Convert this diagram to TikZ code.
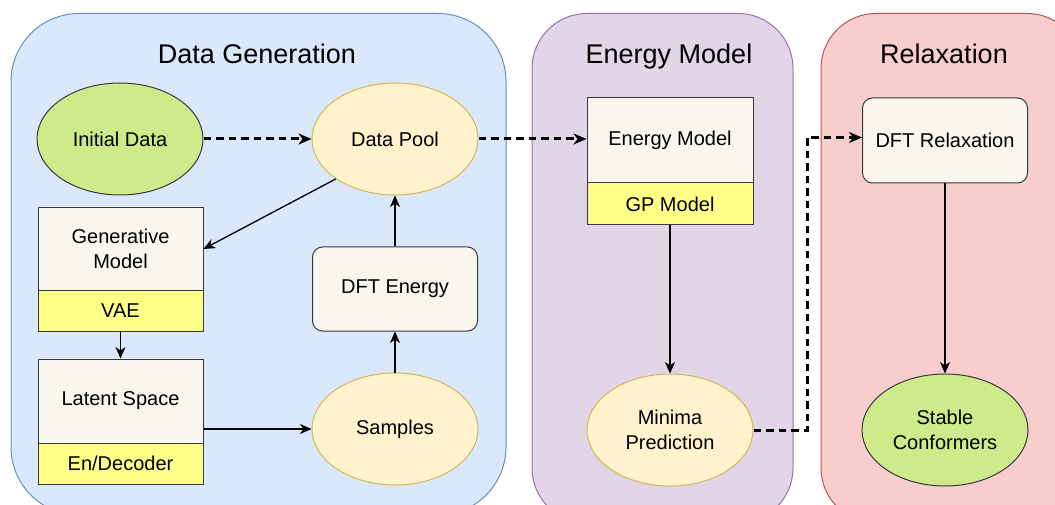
\documentclass[tikz,border=0pt]{standalone}
\usepackage{fontspec}
\setmainfont{Liberation Sans}
\usetikzlibrary{shapes.geometric,arrows.meta}
\definecolor{dgfill}{HTML}{DAE8FC}\definecolor{dgline}{HTML}{6C8EBF}
\definecolor{emfill}{HTML}{E1D5E7}\definecolor{emline}{HTML}{9673A6}
\definecolor{rxfill}{HTML}{F8CECC}\definecolor{rxline}{HTML}{B85450}
\definecolor{grfill}{HTML}{CDEB8B}\definecolor{dark}{HTML}{36393D}
\definecolor{yefill}{HTML}{FFF2CC}\definecolor{yeline}{HTML}{D6B656}
\definecolor{bxfill}{HTML}{F9F7ED}\definecolor{bandfill}{HTML}{FFFF88}
\tikzset{
  body/.style={font=\fontsize{20}{24.5}\selectfont, align=center, inner sep=0pt},
  title/.style={font=\fontsize{27}{31}\selectfont, anchor=base, inner sep=0pt},
  cont/.style={line width=1pt},
  greenell/.style={body, ellipse, draw=dark, fill=grfill, line width=1pt, minimum width=166pt, minimum height=112pt},
  yellowell/.style={body, ellipse, draw=yeline, fill=yefill, line width=1pt, minimum width=166pt, minimum height=112pt},
  cellbox/.style={body, rectangle, draw=dark, fill=bxfill, line width=1pt, minimum width=165pt},
  bandbox/.style={body, rectangle, draw=dark, fill=bandfill, line width=1pt, minimum width=165pt, minimum height=41pt},
  roundbox/.style={cellbox, rounded corners=10pt},
  flow/.style={-{Stealth[length=11.5pt,width=10pt,inset=3.5pt]}, line width=1.3pt},
  dflow/.style={-{Stealth[length=13pt,width=11pt,inset=4pt]}, line width=3pt, dash pattern=on 7.5pt off 5pt}
}
\begin{document}
\begin{tikzpicture}[x=1pt,y=-1pt]
\useasboundingbox (0,0) rectangle (1055,505);
\clip (0,0) rectangle (1055,505);
% containers
\draw[cont, draw=dgline, fill=dgfill, rounded corners=68pt] (11,13.5) rectangle (506,515);
\draw[cont, draw=emline, fill=emfill, rounded corners=55pt] (532,13.5) rectangle (793,523);
\draw[cont, draw=rxline, fill=rxfill, rounded corners=55pt] (821,13.5) rectangle (1082,523);
\node[title] (t1) at (257,64) {Data Generation};
\node[title] (t2) at (669,64) {Energy Model};
\node[title] (t3) at (944,64) {Relaxation};
% data generation
\node[greenell] (init) at (120,139) {Initial Data};
\node[yellowell] (pool) at (395,139) {Data Pool};
\node[cellbox, minimum height=82pt] (gm) at (120.5,249) {Generative\\Model};
\node[bandbox] (vae) at (120.5,310.5) {VAE};
\node[cellbox, minimum height=84pt] (ls) at (120.5,401) {Latent Space};
\node[bandbox] (enc) at (120.5,463.5) {En/Decoder};
\node[roundbox, minimum height=84pt] (dft) at (395,289) {DFT Energy};
\node[yellowell] (samp) at (395,429) {Samples};
% energy model
\node[cellbox, minimum height=85pt, minimum width=166pt] (em) at (670,140.5) {Energy Model};
\node[bandbox, minimum height=42pt, minimum width=166pt] (gp) at (670,204) {GP Model};
\node[yellowell] (minp) at (670,430) {Minima\\Prediction};
% relaxation
\node[roundbox, minimum height=85pt] (dftr) at (945,140.5) {DFT Relaxation};
\node[greenell] (stab) at (945,430) {Stable\\Conformers};
\coordinate (bend) at (807,430);
% connectors
\draw[dflow] (init.east) -- (pool.west);
\draw[dflow] (pool.east) -- (em.west |- pool.east);
\draw[flow] (pool.214) -- (gm.east);
\draw[flow] (vae.south) -- (ls.north);
\draw[flow] (ls.east |- samp.west) -- (samp.west);
\draw[flow] (samp.north) -- (dft.south);
\draw[flow] (dft.north) -- (pool.south);
\draw[flow] (gp.south) -- (minp.north);
\draw[flow] (dftr.south) -- (stab.north);
\draw[dflow] (minp.east) -- (bend) |- ([yshift=3pt]dftr.west);
\end{tikzpicture}
\end{document}
